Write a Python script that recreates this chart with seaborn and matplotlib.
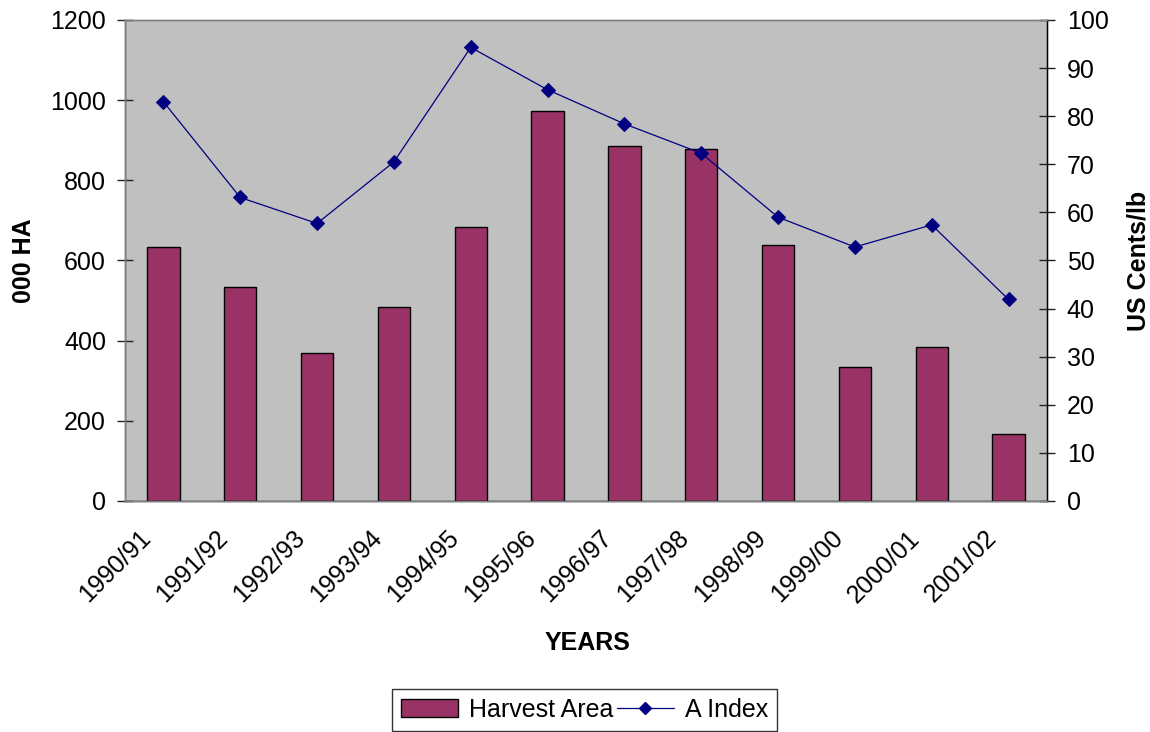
import numpy as np
import pandas as pd
import matplotlib
matplotlib.use('Agg')
import matplotlib.pyplot as plt
import seaborn as sns
from matplotlib.patches import Patch
from matplotlib.lines import Line2D
from matplotlib.transforms import ScaledTranslation

# Data
years = ['1990/91', '1991/92', '1992/93', '1993/94', '1994/95', '1995/96',
         '1996/97', '1997/98', '1998/99', '1999/00', '2000/01', '2001/02']
harvest_area = [633, 533, 369, 483, 683, 972, 886, 877, 638, 334, 385, 168]
a_index = [83.0, 63.1, 57.7, 70.5, 94.3, 85.5, 78.4, 72.3, 59.0, 52.8, 57.4, 41.9]

df = pd.DataFrame({'year': years, 'area': harvest_area, 'index': a_index})

sns.set_theme(style='white')
plt.rcParams['font.family'] = ['Liberation Sans', 'DejaVu Sans']
plt.rcParams['text.color'] = 'black'
plt.rcParams['axes.labelcolor'] = 'black'

bar_color = '#993366'
line_color = '#000080'
fs = 18

fig = plt.figure(figsize=(11.5, 7.32), dpi=100)
ax = fig.add_axes([0.1087, 0.3156, 0.8017, 0.6571])
ax.set_facecolor('#C0C0C0')

sns.barplot(data=df, x='year', y='area', color=bar_color, width=0.42,
            edgecolor='black', linewidth=1, saturation=1, ax=ax)

ax2 = ax.twinx()
sns.lineplot(x=np.arange(len(years)), y=df['index'], ax=ax2, color=line_color,
             linewidth=0.9, marker='D', markersize=7, markeredgecolor=line_color)

ax.set_xlim(-0.5, len(years) - 0.5)
ax.set_ylim(0, 1200)
ax.set_yticks(np.arange(0, 1201, 200))
ax2.set_ylim(0, 100)
ax2.set_yticks(np.arange(0, 101, 10))

ax.set_xticks(np.arange(len(years) + 1) - 0.5)
ax.set_xticklabels(years + [''], rotation=45, ha='right', va='top',
                   rotation_mode='anchor')

for a in (ax, ax2):
    a.tick_params(axis='both', direction='inout', length=11.5, width=1,
                  color='#222222', labelsize=fs, labelcolor='black')
    for s in a.spines.values():
        s.set_color('#808080')
        s.set_linewidth(1)
ax.spines['left'].set_color('#404040')
ax.spines['bottom'].set_color('black')
ax2.spines['right'].set_color('black')
ax.tick_params(axis='y', pad=8)
ax2.tick_params(axis='y', pad=8.5)
ax.tick_params(axis='x', pad=0)

# Excel-style placement of the rotated year labels
offset = ScaledTranslation(14 / 100, -17 / 100, fig.dpi_scale_trans)
for lbl in ax.get_xticklabels():
    lbl.set_transform(lbl.get_transform() + offset)

ax.set_xlabel('YEARS', fontsize=fs, fontweight='bold')
ax.xaxis.set_label_coords(0.502, -0.27)
ax.set_ylabel('000 HA', fontsize=fs, fontweight='bold')
ax.yaxis.set_label_coords(-0.097, 0.5)
ax2.set_ylabel('US Cents/lb', fontsize=fs, fontweight='bold')
ax2.yaxis.set_label_coords(1.086, 0.5)

handles = [Patch(facecolor=bar_color, edgecolor='black', linewidth=1),
           Line2D([0], [0], color=line_color, linewidth=0.9, marker='D',
                  markersize=6)]
leg = fig.legend(handles, ['Harvest Area', 'A Index'], loc='upper center',
                 bbox_to_anchor=(0.508, 0.0587), ncol=2, fontsize=fs,
                 frameon=True, fancybox=False, edgecolor='black',
                 handlelength=2.3, handletextpad=0.42, columnspacing=0.15,
                 borderpad=0.35, borderaxespad=0)
leg.get_frame().set_linewidth(1)

fig.savefig('out.png', dpi=100)
